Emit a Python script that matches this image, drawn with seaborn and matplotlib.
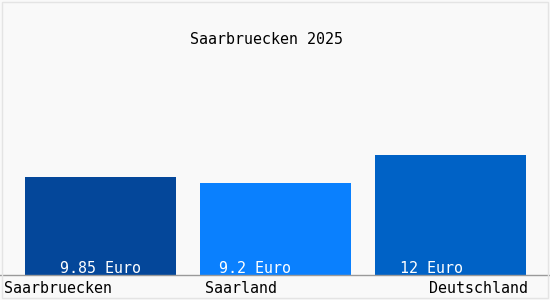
import matplotlib
matplotlib.use("Agg")
import matplotlib.pyplot as plt
import matplotlib.transforms as mtrans
from matplotlib.patches import Rectangle
import seaborn as sns
import pandas as pd

# ---- data ----
categories = ["Saarbruecken", "Saarland", "Deutschland"]
values = [9.85, 9.2, 12.0]
value_labels = ["9.85 Euro", "9.2 Euro", "12 Euro"]
title = "Saarbruecken 2025"

# ---- style ----
bar_colors = ["#04479a", "#0a80fe", "#0062c6"]
bg = "#f9f9f9"
sns.set_style("white")
plt.rcParams["font.family"] = ["DejaVu Sans Mono"]
FS = 10.8

df = pd.DataFrame({"cat": categories, "val": values})

fig = plt.figure(figsize=(5.5, 3.0), dpi=100, facecolor=bg)
ax = fig.add_axes([0, 25 / 300, 1, 240 / 300])
ax.set_facecolor(bg)

sns.barplot(data=df, x="cat", y="val", hue="cat", order=categories,
            palette=bar_colors, width=151 / 175, saturation=1,
            legend=False, linewidth=0, edgecolor="none", ax=ax)

px = 1 / 175.0  # px -> data units along x
ax.set_xlim(-100.5 * px, 449.5 * px)
ax.set_ylim(0, 24)

for s in ["top", "right", "left"]:
    ax.spines[s].set_visible(False)
ax.spines["bottom"].set_color("#9a9a9a")
ax.spines["bottom"].set_linewidth(1.0)
ax.set_xticks([])
ax.set_yticks([])
ax.set_xlabel("")
ax.set_ylabel("")

# value labels inside bars
label_dx = [-0.5, -20.5, -19.5]
for i, (lab, dx) in enumerate(zip(value_labels, label_dx)):
    ax.text(i + dx * px, 0.18, lab, color="white", fontsize=FS,
            ha="center", va="baseline")

# category labels under the axis
trans = mtrans.blended_transform_factory(ax.transData, ax.transAxes)
cat_pos = [(-96.5 * px, "left"), (1 - 70.5 * px, "left"), (2 + 77.5 * px, "right")]
for cat, (x, ha) in zip(categories, cat_pos):
    ax.text(x, -18 / 240, cat, transform=trans, fontsize=FS,
            ha=ha, va="baseline", color="black")

fig.text(266 / 550, (300 - 43.5) / 300, title, fontsize=FS,
         ha="center", va="baseline", color="black")

# faint frame
fig.patches.append(Rectangle((1.5 / 550, 2.5 / 300), 546 / 550, 296 / 300,
                             transform=fig.transFigure, fill=False,
                             edgecolor="#e4e4e4", linewidth=1))

fig.savefig("out.png", dpi=100, facecolor=bg)
